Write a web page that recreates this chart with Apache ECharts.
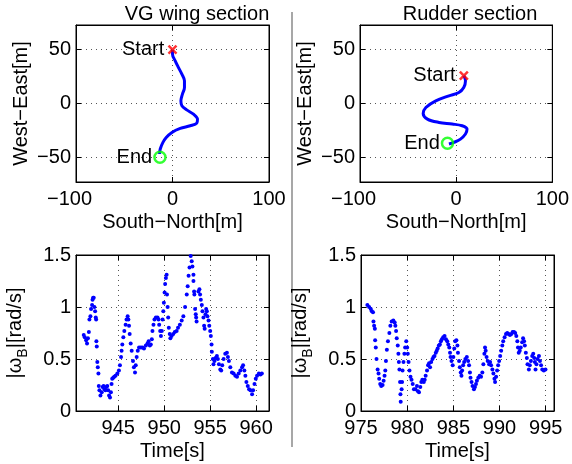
<!DOCTYPE html>
<html><head><meta charset="utf-8">
<script src="https://cdn.jsdelivr.net/npm/echarts@6/dist/echarts.min.js"></script>
<style>html,body{margin:0;padding:0;background:#fff}#c{width:572px;height:464px}</style>
</head><body><div id="c"></div>
<script>
const titles = ['VG wing section', 'Rudder section'];
const trajXName = 'South−North[m]';
const trajYName = 'West−East[m]';
const timeName = 'Time[s]';
const startLabel = 'Start', endLabel = 'End';

// Trajectory, VG wing section
const vgPathX = [0, 0, 2.8, 6.2, 9.7, 12.4, 12.4, 10.3, 8.7, 9.7, 14.7, 21.7, 25.9, 25.2, 18.3, 8, -0.6, -6.5, -9.9, -12.7, -13.4];
const vgPathY = [50, 45.9, 39.6, 33.4, 27.3, 21.1, 14.9, 8.7, 2.5, -2.1, -5.9, -9.9, -14.5, -18.2, -20.7, -23.2, -26.9, -31.6, -36.2, -42.3, -47];
const vgStart = [0, 50];
const vgEnd = [-13, -50];

// Trajectory, rudder section
const rudPathX = [8, 9.7, 7.9, 2.8, -7.5, -21.2, -31.5, -34.3, -29.9, -17.8, -4.1, 6.2, 11.3, 9.7, 4.5, -2.4, -7.5];
const rudPathY = [26, 21.1, 14.9, 10.2, 7.1, 2.5, -3.7, -9.3, -14.5, -17.6, -19.1, -20.7, -23.8, -28.4, -33.1, -36.2, -37.7];
const rudStart = [8, 26];
const rudEnd = [-9, -37];

// Angular rate, VG wing section
const vgTime = [941.24,941.35,941.5,941.6,941.7,941.8,941.86,941.97,942.04,942.15,942.2,942.26,942.33,942.4,942.48,942.55,942.59,942.62,942.66,942.72,942.77,942.84,942.88,942.95,943.06,943.2,943.3,943.4,943.5,943.6,943.7,943.8,943.9,944.0,944.1,944.2,944.27,944.34,944.45,944.56,944.7,944.9,945.07,945.18,945.3,945.36,945.44,945.55,945.66,945.8,945.9,946.02,946.1,946.17,946.24,946.35,946.46,946.6,946.7,946.82,946.9,947.0,947.12,947.26,947.45,947.63,947.8,948.0,948.18,948.3,948.43,948.54,948.65,948.72,948.83,948.94,949.09,949.27,949.38,949.45,949.56,949.64,949.74,949.82,949.9,949.96,950.04,950.1,950.18,950.26,950.3,950.37,950.43,950.5,950.6,950.67,950.8,950.98,951.15,951.35,951.5,951.7,951.9,952.08,952.27,952.45,952.55,952.65,952.75,952.88,952.99,953.07,953.18,953.18,953.25,953.28,953.36,953.43,953.47,953.52,953.72,953.83,953.9,953.98,954.09,954.16,954.27,954.34,954.4,954.49,954.56,954.64,954.7,954.82,954.9,955.0,955.07,955.15,955.18,955.3,955.36,955.47,955.58,955.73,955.84,955.95,956.1,956.2,956.31,956.46,956.64,956.82,956.93,957.04,957.19,957.37,957.55,957.74,957.92,958.1,958.28,958.47,958.58,958.72,958.83,958.94,959.09,959.23,959.38,959.56,959.67,959.82,959.96,960.1,960.3,960.47,960.62];
const vgOmega = [0.73,0.71,0.68,0.65,0.70,0.76,0.88,0.91,0.98,1.02,1.07,1.09,1.09,1.0,0.96,0.9,0.88,0.67,0.62,0.47,0.42,0.36,0.24,0.20,0.15,0.18,0.23,0.24,0.21,0.20,0.23,0.24,0.20,0.15,0.13,0.18,0.26,0.31,0.32,0.33,0.34,0.36,0.39,0.44,0.52,0.58,0.64,0.71,0.77,0.83,0.88,0.91,0.88,0.82,0.74,0.65,0.58,0.48,0.42,0.37,0.44,0.52,0.58,0.61,0.61,0.61,0.60,0.63,0.65,0.67,0.63,0.64,0.69,0.77,0.83,0.88,0.90,0.90,0.88,0.83,0.77,0.72,0.77,0.88,0.96,1.04,1.14,1.22,1.28,1.31,1.12,1.0,0.9,0.8,0.74,0.70,0.72,0.74,0.76,0.77,0.80,0.83,0.87,0.91,1.0,1.12,1.2,1.3,1.38,1.49,1.44,1.39,1.31,1.25,1.15,1.12,0.98,0.93,0.90,0.86,1.15,1.17,1.12,1.07,1.02,0.96,0.9,0.82,0.79,0.93,0.98,0.96,0.91,0.87,0.82,0.77,0.72,0.64,0.57,0.5,0.45,0.48,0.51,0.53,0.5,0.45,0.4,0.39,0.44,0.5,0.55,0.56,0.52,0.48,0.42,0.37,0.36,0.34,0.33,0.36,0.39,0.42,0.44,0.39,0.34,0.28,0.24,0.21,0.2,0.16,0.2,0.26,0.31,0.34,0.36,0.35,0.36];

// Angular rate, rudder section
const rudTime = [975.69,975.88,976.06,976.17,976.3,976.35,976.42,976.5,976.53,976.6,976.68,976.8,976.9,976.97,977.08,977.19,977.34,977.45,977.55,977.63,977.7,977.8,977.92,978.07,978.18,978.32,978.5,978.65,978.72,978.8,978.87,978.98,979.05,979.1,979.16,979.23,979.27,979.3,979.4,979.45,979.5,979.6,979.7,979.78,979.9,980.0,980.07,980.15,980.25,980.36,980.47,980.6,980.73,980.9,981.06,981.17,981.28,981.42,981.53,981.64,981.8,981.9,982.0,982.15,982.26,982.37,982.48,982.6,982.74,982.85,982.96,983.1,983.2,983.3,983.43,983.54,983.65,983.76,983.9,984.05,984.2,984.34,984.45,984.56,984.64,984.7,984.8,984.93,985.0,985.1,985.2,985.33,985.44,985.5,985.62,985.7,985.8,985.88,985.95,986.06,986.17,986.3,986.46,986.6,986.7,986.8,986.86,986.97,987.08,987.23,987.34,987.45,987.55,987.7,987.85,988.0,988.14,988.25,988.36,988.43,988.5,988.6,988.72,988.87,988.98,989.09,989.23,989.34,989.45,989.52,989.63,989.74,989.85,989.96,990.07,990.18,990.3,990.4,990.55,990.7,990.84,990.99,991.13,991.28,991.42,991.57,991.7,991.82,991.93,992.0,992.08,992.19,992.3,992.45,992.55,992.66,992.74,992.85,992.96,993.03,993.18,993.28,993.4,993.54,993.65,993.76,993.83,993.9,994.0,994.12,994.27,994.38,994.5,994.63,994.8,994.98];
const rudOmega = [1.02,1.0,0.98,0.96,0.95,0.86,0.82,0.79,0.68,0.61,0.50,0.40,0.36,0.31,0.26,0.24,0.25,0.29,0.34,0.39,0.48,0.59,0.67,0.75,0.82,0.86,0.87,0.85,0.82,0.77,0.70,0.63,0.55,0.47,0.40,0.28,0.16,0.09,0.21,0.28,0.39,0.47,0.55,0.61,0.67,0.61,0.55,0.47,0.39,0.33,0.30,0.26,0.21,0.21,0.24,0.19,0.18,0.23,0.28,0.30,0.28,0.30,0.34,0.39,0.44,0.46,0.42,0.47,0.50,0.52,0.53,0.56,0.58,0.60,0.63,0.64,0.67,0.69,0.71,0.72,0.69,0.67,0.64,0.61,0.56,0.52,0.48,0.44,0.52,0.60,0.67,0.68,0.63,0.56,0.48,0.42,0.37,0.34,0.39,0.44,0.47,0.50,0.52,0.48,0.44,0.37,0.32,0.28,0.24,0.21,0.23,0.26,0.29,0.32,0.34,0.33,0.37,0.45,0.55,0.61,0.58,0.52,0.48,0.45,0.47,0.44,0.40,0.36,0.31,0.28,0.33,0.39,0.44,0.48,0.53,0.58,0.63,0.67,0.71,0.74,0.75,0.74,0.73,0.74,0.76,0.76,0.75,0.72,0.67,0.61,0.56,0.58,0.61,0.66,0.70,0.67,0.63,0.56,0.51,0.45,0.40,0.44,0.48,0.53,0.55,0.51,0.47,0.40,0.45,0.50,0.53,0.48,0.44,0.40,0.39,0.40];

const trajXTicks = [-100, 0, 100];
const omegaTicks = [0, 0.5, 1, 1.5];

const FONT = "'Liberation Sans', Arial, Helvetica, sans-serif";
const zip = (a, b) => a.map((v, i) => [v, b[i]]);
const fmtNeg = v => (v < 0 ? '−' + (-v) : String(v));

const grids = [
  {left: 76, top: 25, width: 193, height: 157},
  {left: 360, top: 25, width: 194, height: 157},
  {left: 76, top: 255, width: 193, height: 156},
  {left: 361, top: 255, width: 193, height: 156}
].map(g => Object.assign(g, {show: true, borderColor: '#000', borderWidth: 1, backgroundColor: '#fff'}));

const splitLine = {show: true, lineStyle: {color: '#555', width: 1, type: [1, 4]}};
const axisLine = {show: true, onZero: false, lineStyle: {color: '#000', width: 1}};
const axisTick = {show: true, inside: true, length: 5, lineStyle: {color: '#000', width: 1}};
const nameStyle = {fontSize: 20, color: '#000', fontFamily: FONT};

function mainAxis(gi, extra) {
  return Object.assign({
    gridIndex: gi, type: 'value', nameLocation: 'middle',
    nameTextStyle: nameStyle, axisLine, axisTick, splitLine,
    axisLabel: {fontSize: 20, color: '#000', fontFamily: FONT}
  }, extra);
}
function frameAxis(gi, pos, min, max, extra) {
  return Object.assign({
    gridIndex: gi, type: 'value', position: pos, min, max,
    axisLine, axisTick, axisLabel: {show: false}, splitLine: {show: false}
  }, extra);
}

const trajX = gi => mainAxis(gi, {
  min: trajXTicks[0], max: trajXTicks[2], interval: 100, name: trajXName, nameGap: 30,
  axisLabel: {fontSize: 20, color: '#000', fontFamily: FONT, margin: 7,
    formatter: v => v === trajXTicks[0] ? '{s|' + fmtNeg(v) + '}' : fmtNeg(v),
    rich: {s: {fontSize: 20, color: '#000', fontFamily: FONT, padding: [0, 13, 0, 0]}}}
});
const trajY = gi => mainAxis(gi, {
  min: -73, max: 73, splitNumber: 3, name: trajYName, nameGap: 45,
  axisLabel: {fontSize: 20, color: '#000', fontFamily: FONT, margin: 5, showMinLabel: false, showMaxLabel: false, formatter: fmtNeg}
});
const omegaY = gi => mainAxis(gi, {
  min: omegaTicks[0], max: omegaTicks[3], interval: 0.5,
  name: '|{w|ω}{b|B}|[rad/s]', nameGap: 46,
  nameTextStyle: Object.assign({}, nameStyle, {rich: {
    w: {fontSize: 20, color: '#000', fontFamily: FONT},
    b: {fontSize: 14, color: '#000', fontFamily: FONT, verticalAlign: 'bottom', lineHeight: 30}
  }}),
  axisLabel: {fontSize: 20, color: '#000', fontFamily: FONT, margin: 5}
});
const timeX = (gi, min, max, showMin) => mainAxis(gi, {
  min, max, splitNumber: 4, name: timeName, nameGap: 30,
  axisLabel: {fontSize: 20, color: '#000', fontFamily: FONT, margin: 7, showMinLabel: showMin, showMaxLabel: false}
});

const vgTimeRange = [940.4, 961.4];
const rudTimeRange = [975, 995.9];

const xAxis = [
  trajX(0), trajX(1), timeX(2, vgTimeRange[0], vgTimeRange[1], false), timeX(3, rudTimeRange[0], rudTimeRange[1], true),
  frameAxis(0, 'top', -100, 100, {interval: 100}), frameAxis(1, 'top', -100, 100, {interval: 100}),
  frameAxis(2, 'top', vgTimeRange[0], vgTimeRange[1], {splitNumber: 4}), frameAxis(3, 'top', rudTimeRange[0], rudTimeRange[1], {splitNumber: 4})
];
const yAxis = [
  trajY(0), trajY(1), omegaY(2), omegaY(3),
  frameAxis(0, 'right', -73, 73, {splitNumber: 3}), frameAxis(1, 'right', -73, 73, {splitNumber: 3}),
  frameAxis(2, 'right', 0, 1.5, {interval: 0.5}), frameAxis(3, 'right', 0, 1.5, {interval: 0.5})
];

const markLabel = (text, dist) => ({
  show: true, position: 'left', distance: dist, formatter: text, fontSize: 20,
  color: '#000', fontFamily: FONT, textBorderWidth: 0, opacity: 1
});
const pathSeries = (i, xs, ys) => ({
  type: 'line', xAxisIndex: i, yAxisIndex: i, data: zip(xs, ys), smooth: 0.35,
  showSymbol: false, lineStyle: {color: '#0000ff', width: 3}, silent: true, z: 3
});
const startSeries = (i, p) => ({
  type: 'scatter', xAxisIndex: i, yAxisIndex: i, data: [p], z: 5,
  symbol: 'path://M0,0L10,10M10,0L0,10', symbolSize: 8,
  itemStyle: {color: 'rgba(0,0,0,0)', borderColor: '#ff0000', borderWidth: 2.5},
  label: markLabel(startLabel, 3)
});
const endSeries = (i, p) => ({
  type: 'scatter', xAxisIndex: i, yAxisIndex: i, data: [p], z: 5,
  symbol: 'circle', symbolSize: 11,
  itemStyle: {color: 'rgba(0,0,0,0)', borderColor: '#00ff00', borderWidth: 2.5},
  label: markLabel(endLabel, 1)
});
const dotSeries = (i, xs, ys) => ({
  type: 'scatter', xAxisIndex: i, yAxisIndex: i, data: zip(xs, ys),
  symbol: 'circle', symbolSize: 4, itemStyle: {color: '#0000ff', opacity: 1}, z: 3
});

const chart = echarts.init(document.getElementById('c'), null, {renderer: 'canvas'});
chart.setOption({
  animation: false,
  backgroundColor: '#fff',
  textStyle: {fontFamily: FONT},
  grid: grids,
  xAxis, yAxis,
  graphic: [
    {type: 'text', x: 197, y: 14, style: {text: titles[0], fontSize: 20, fill: '#000', fontFamily: FONT, textAlign: 'center', textVerticalAlign: 'middle'}},
    {type: 'text', x: 470, y: 14, style: {text: titles[1], fontSize: 20, fill: '#000', fontFamily: FONT, textAlign: 'center', textVerticalAlign: 'middle'}},
    {type: 'line', shape: {x1: 292, y1: 12, x2: 292, y2: 447}, style: {stroke: '#8a8a8a', lineWidth: 1.5}}
  ],
  series: [
    pathSeries(0, vgPathX, vgPathY), startSeries(0, vgStart), endSeries(0, vgEnd),
    pathSeries(1, rudPathX, rudPathY), startSeries(1, rudStart), endSeries(1, rudEnd),
    dotSeries(2, vgTime, vgOmega), dotSeries(3, rudTime, rudOmega)
  ]
});
</script></body></html>
